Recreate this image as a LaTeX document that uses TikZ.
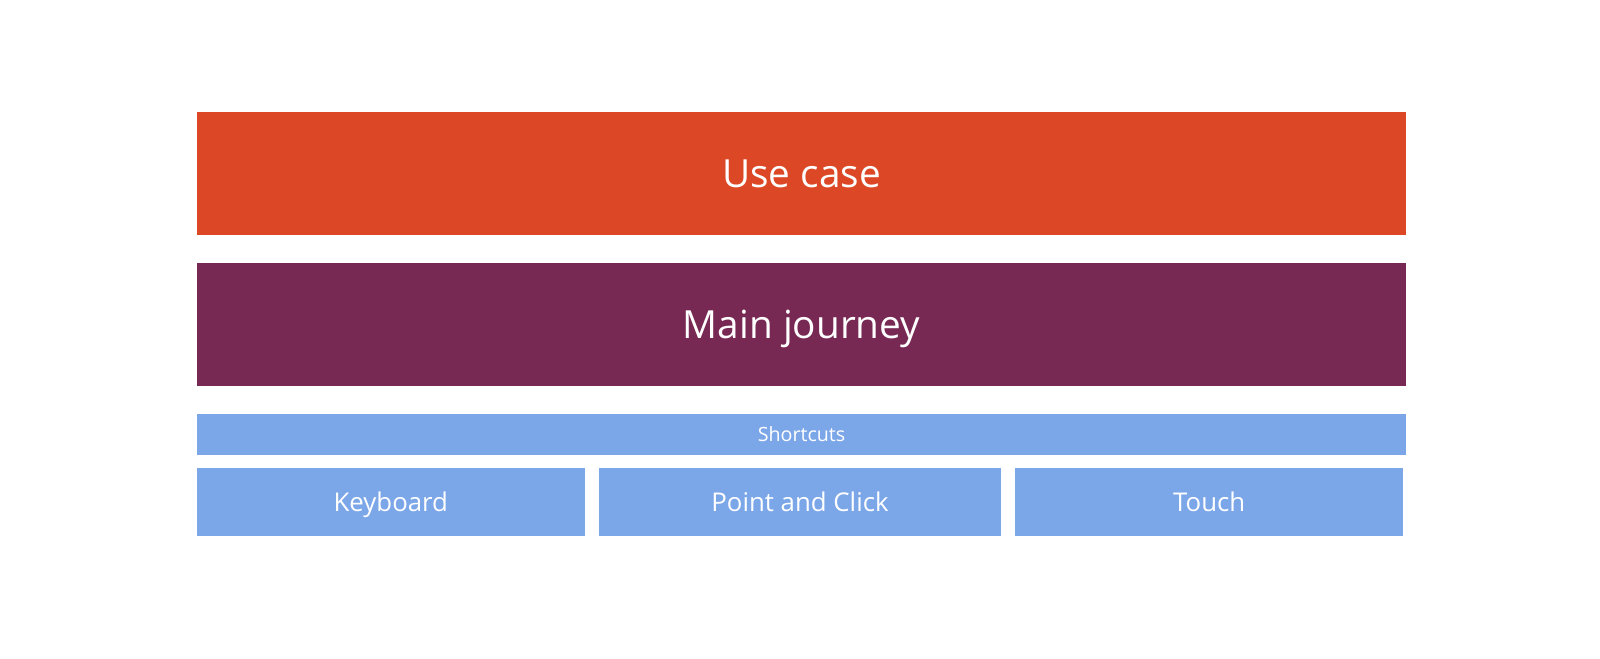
\documentclass[tikz,border=0pt]{standalone}
\usepackage{fontspec}
\setmainfont{Open Sans}
\usepackage{tikz}

\definecolor{caseorange}{HTML}{DC4825}
\definecolor{journeyplum}{HTML}{772953}
\definecolor{inputblue}{HTML}{7BA6E8}

\tikzset{
  layer/.style 2 args={rectangle, inner sep=0pt, outer sep=0pt, text=white, text height=#2, text depth=0pt, font=\fontsize{#1}{#1}\selectfont},
}

\begin{document}
\begin{tikzpicture}
  \fill[white] (0,0) rectangle (39.2,-16.125);
  \node[layer={27}{19.3pt}, fill=caseorange, minimum width=29.625cm, minimum height=3.025cm] (usecase) at (19.6375,-4.25) {Use case};
  \node[layer={27}{19.3pt}, fill=journeyplum, minimum width=29.625cm, minimum height=3cm] (journey) at (19.6375,-7.95) {Main journey};
  \node[layer={13.7}{9.8pt}, fill=inputblue, minimum width=29.625cm, minimum height=1cm] (shortcuts) at (19.6375,-10.64) {Shortcuts};
  \node[layer={18}{12.9pt}, fill=inputblue, minimum width=9.5cm, minimum height=1.65cm] (keyboard) at (9.575,-12.3) {Keyboard};
  \node[layer={18}{12.9pt}, fill=inputblue, minimum width=9.85cm, minimum height=1.65cm] (pointclick) at (19.6,-12.3) {Point and Click};
  \node[layer={18}{12.9pt}, fill=inputblue, minimum width=9.5cm, minimum height=1.65cm] (touch) at (29.625,-12.3) {Touch};
  \pgfresetboundingbox
  \useasboundingbox (0,0) rectangle (39.2,-16.125);
\end{tikzpicture}
\end{document}
